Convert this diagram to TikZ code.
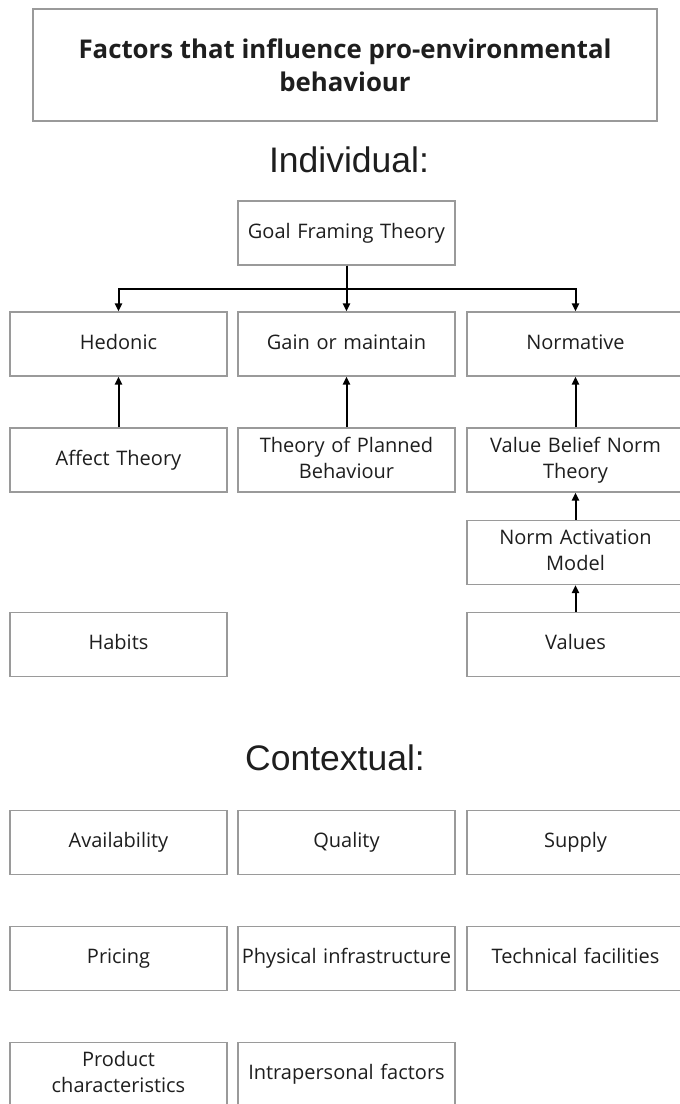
\documentclass[tikz,border=0pt]{standalone}
\usepackage{fontspec}
\setmainfont{Open Sans}
\newfontfamily\headfont{Liberation Sans}
\usetikzlibrary{arrows.meta}
\definecolor{boxline}{HTML}{9A9A9A}
\definecolor{ink}{HTML}{1E1E1E}
\tikzset{
  card/.style={draw=boxline, line width=1.1pt, fill=white, minimum width=217pt,
    minimum height=64pt, inner sep=1pt, align=center, text=ink,
    font=\fontsize{20}{26}\selectfont, text width=215pt,
    execute at begin node=\strut, execute at end node=\strut},
  heading/.style={text=ink, font=\headfont\fontsize{35.5}{40}\selectfont},
  link/.style={draw=black, line width=2pt, -{Triangle[length=8pt,width=7pt]}},
}
\begin{document}
\begin{tikzpicture}[x=1pt,y=-1pt]
\clip (0,0) rectangle (680,1104);
\fill[white] (0,0) rectangle (680,1104);

% title
\node[draw=boxline, line width=1.1pt, minimum width=624pt, minimum height=112pt,
  align=center, text=ink, font=\bfseries\fontsize{25.8}{33}\selectfont]
  (title) at (345,65) {Factors that influence pro-environmental\\behaviour};

% individual factors
\node[heading] (ind) at (349,160) {Individual:};
\node[card] (goal) at (346.5,233) {Goal Framing Theory};

\node[card] (hed)  at (118.5,344) {Hedonic};
\node[card] (gain) at (346.5,344) {Gain or maintain};
\node[card] (norm) at (575.5,344) {Normative};

\node[card] (aff) at (118.5,460) {Affect Theory};
\node[card] (tpb) at (346.5,460) {Theory of Planned\\Behaviour};
\node[card] (vbn) at (575.5,460) {Value Belief Norm\\Theory};

\node[card] (nam) at (575.5,552.5) {Norm Activation\\Model};

\node[card] (hab) at (118.5,644.5) {Habits};
\node[card] (val) at (575.5,644.5) {Values};

% goal framing branches
\coordinate (bar) at (346.5,289);
\draw[link] (goal.south) -- (gain.north);
\draw[link] (goal.south) -- (bar) -| (hed.north);
\draw[link] (goal.south) -- (bar) -| (norm.north);

% theories feeding the goal frames
\draw[link] (aff.north) -- (hed.south);
\draw[link] (tpb.north) -- (gain.south);
\draw[link] (vbn.north) -- (norm.south);
\draw[link] (nam.north) -- (vbn.south);
\draw[link] (val.north) -- (nam.south);

% contextual factors
\node[heading] (ctx) at (335,758) {Contextual:};

\node[card] (avail) at (118.5,842.5) {Availability};
\node[card] (qual)  at (346.5,842.5) {Quality};
\node[card] (supp)  at (575.5,842.5) {Supply};

\node[card] (price) at (118.5,958.5) {Pricing};
\node[card] (phys)  at (346.5,958.5) {Physical infrastructure};
\node[card] (tech)  at (575.5,958.5) {Technical facilities};

\node[card] (prod)  at (118.5,1074.5) {Product\\characteristics};
\node[card] (intra) at (346.5,1074.5) {Intrapersonal factors};
\end{tikzpicture}
\end{document}
